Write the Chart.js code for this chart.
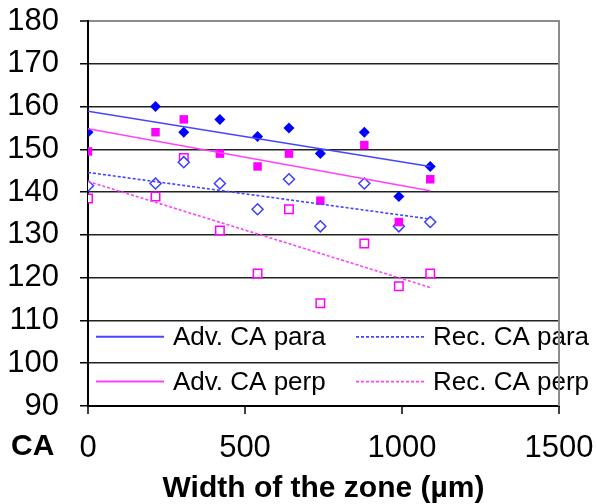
<!DOCTYPE html>
<html>
<head>
<meta charset="utf-8">
<script src="https://cdn.jsdelivr.net/npm/chart.js@4"></script>
<style>
  body { margin: 0; background: #fff; }
  #wrap { width: 596px; height: 504px; }
</style>
</head>
<body>
<div id="wrap"><canvas id="caChart" width="596" height="504"></canvas></div>
<script>
// zone widths (µm)
const zoneWidth = [0, 215, 305, 420, 540, 640, 740, 880, 990, 1090];

// contact angles
const advPara = [154, 160, 154, 157, 153, 155, 149, 154, 139, 146];
const advPerp = [149.5, 154, 157, 149, 146, 149, 138, 151, 133, 143];
const recPara = [141.5, 142, 147, 142, 136, 143, 132, 142, 132, 133];
const recPerp = [138.5, 139, 148, 131, 121, 136, 114, 128, 118, 121];

// linear trend lines, start/end
const trendX = [0, 1090];
const advParaTrend = [158.9, 146.0];
const advPerpTrend = [154.8, 140.3];
const recParaTrend = [144.6, 133.7];
const recPerpTrend = [142.5, 117.7];

const xTicks = [0, 500, 1000, 1500];
const yTicks = [90, 100, 110, 120, 130, 140, 150, 160, 170, 180];

const FONT = "'Liberation Sans', Arial, sans-serif";
const BLUE = '#0000ff';
const BLUE_LINE = '#4545ff';
const MAGENTA = '#ff00ff';
const MAGENTA_LINE = '#ff40ff';

function pts(xs, ys) {
    return xs.map((x, i) => ({ x: x, y: ys[i] }));
}

function markerSet(label, ys, style, color, filled, radius) {
    return {
        label: label,
        data: pts(zoneWidth, ys),
        showLine: false,
        pointStyle: style,
        pointRadius: radius,
        pointBackgroundColor: filled ? color : '#ffffff',
        pointBorderColor: color,
        pointBorderWidth: filled ? 0 : 1.5,
        inLegend: false
    };
}

function trendSet(label, ys, color, dashed) {
    return {
        label: label,
        data: pts(trendX, ys),
        showLine: true,
        borderColor: color,
        borderWidth: dashed ? 1.6 : 1.5,
        borderDash: dashed ? [3, 2] : [],
        pointRadius: 0,
        fill: false,
        inLegend: true
    };
}

// legend drawn inside the plot, over the two lowest grid bands
const insideLegend = {
    id: 'insideLegend',
    afterDraw(chart) {
        const ctx = chart.ctx;
        const area = chart.chartArea;
        const y = chart.scales.y;
        const items = chart.data.datasets.filter(d => d.inLegend);
        const colX = [area.left + 8, area.left + 268];
        const rowY = [(y.getPixelForValue(110) + y.getPixelForValue(100)) / 2 - 5,
                      (y.getPixelForValue(100) + y.getPixelForValue(90)) / 2 - 3];
        ctx.save();
        ctx.font = '26px ' + FONT;
        ctx.textBaseline = 'middle';
        ctx.fillStyle = '#000';
        items.forEach((d, i) => {
            const cx = colX[i % 2];
            const cy = rowY[Math.floor(i / 2)];
            ctx.beginPath();
            ctx.strokeStyle = d.borderColor;
            ctx.lineWidth = d.borderDash.length ? 1.6 : 2;
            ctx.setLineDash(d.borderDash);
            ctx.moveTo(cx, cy);
            ctx.lineTo(cx + 68, cy);
            ctx.stroke();
            ctx.setLineDash([]);
            ctx.fillText(d.label, cx + 77, cy + 1);
        });
        // right frame line drawn over the overflowing text
        ctx.beginPath();
        ctx.strokeStyle = '#8c8c8c';
        ctx.lineWidth = 2;
        ctx.moveTo(area.right, area.top - 1);
        ctx.lineTo(area.right, area.bottom);
        ctx.stroke();
        // "CA" axis name
        ctx.font = 'bold 30px ' + FONT;
        ctx.textAlign = 'left';
        ctx.fillText('CA', 11, 447);
        ctx.restore();
    }
};

new Chart(document.getElementById('caChart'), {
    type: 'scatter',
    data: {
        datasets: [
            trendSet('Adv. CA para', advParaTrend, BLUE_LINE, false),
            trendSet('Rec. CA para', recParaTrend, BLUE_LINE, true),
            trendSet('Adv. CA perp', advPerpTrend, MAGENTA_LINE, false),
            trendSet('Rec. CA perp', recPerpTrend, MAGENTA_LINE, true),
            markerSet('Adv para', advPara, 'rectRot', BLUE, true, 5.5),
            markerSet('Adv perp', advPerp, 'rect', MAGENTA, true, 6),
            markerSet('Rec para', recPara, 'rectRot', '#3c3cff', false, 5.5),
            markerSet('Rec perp', recPerp, 'rect', MAGENTA, false, 6)
        ]
    },
    options: {
        responsive: false,
        animation: false,
        layout: { padding: { top: 21, right: 37, left: 0, bottom: 0 } },
        plugins: {
            legend: { display: false },
            tooltip: { enabled: false }
        },
        scales: {
            x: {
                type: 'linear',
                min: 0,
                max: 1500,
                afterBuildTicks: axis => { axis.ticks = xTicks.map(v => ({ value: v })); },
                afterFit: axis => {
                    axis.height = 98;
                    axis.paddingLeft = 0;
                    axis.paddingRight = 0;
                },
                grid: {
                    color: c => (c.tick && c.tick.value === 1500) ? '#8c8c8c' : 'rgba(0,0,0,0)',
                    lineWidth: 2,
                    tickColor: '#000',
                    tickLength: 8,
                    tickWidth: 1.5
                },
                border: { color: '#000', width: 2 },
                ticks: {
                    color: '#000',
                    font: { family: FONT, size: 31 },
                    padding: 16,
                    maxRotation: 0,
                    callback: v => String(v)
                },
                title: {
                    display: true,
                    text: 'Width of the zone (µm)',
                    color: '#000',
                    font: { family: FONT, size: 30, weight: 'bold', lineHeight: 1 },
                    padding: { top: 0, bottom: 0 }
                }
            },
            y: {
                min: 90,
                max: 180,
                afterBuildTicks: axis => { axis.ticks = yTicks.map(v => ({ value: v })); },
                afterFit: axis => {
                    axis.width = 88;
                    axis.paddingTop = 0;
                    axis.paddingBottom = 0;
                },
                grid: {
                    color: c => (c.tick && c.tick.value === 180) ? '#8c8c8c' : '#222',
                    lineWidth: c => (c.tick && c.tick.value === 180) ? 2 : 1.5,
                    tickColor: '#000',
                    tickLength: 8,
                    tickWidth: 1.5
                },
                border: { color: '#000', width: 2 },
                ticks: {
                    color: '#000',
                    font: { family: FONT, size: 31 },
                    padding: 21
                }
            }
        }
    },
    plugins: [insideLegend]
});
</script>
</body>
</html>
